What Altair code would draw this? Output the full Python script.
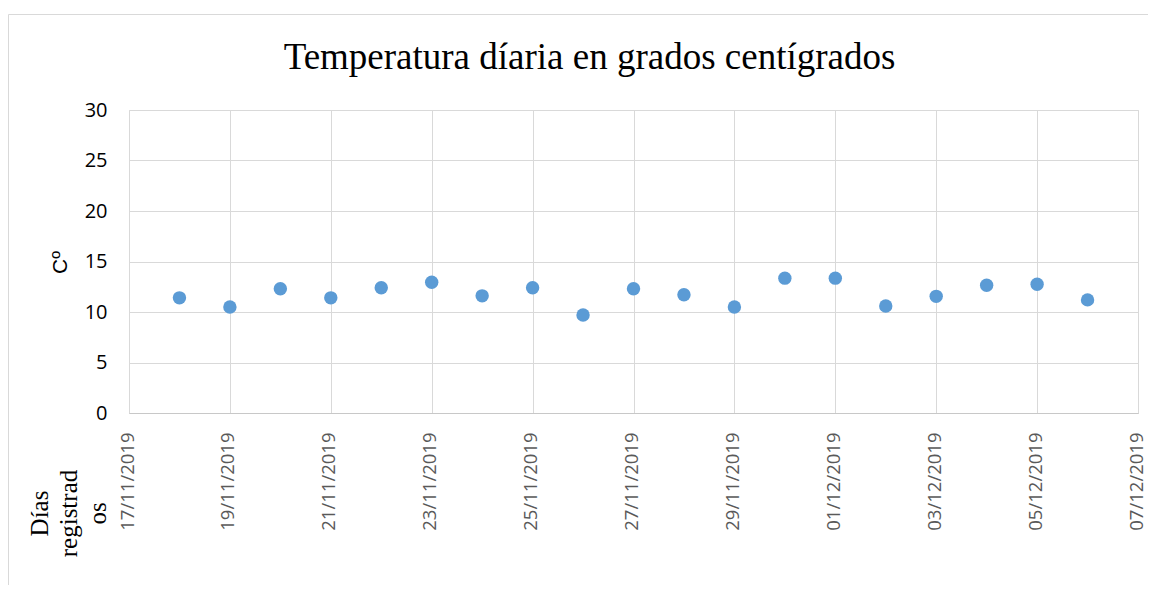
import altair as alt
import pandas as pd

dates = ["2019-11-18", "2019-11-19", "2019-11-20", "2019-11-21", "2019-11-22",
         "2019-11-23", "2019-11-24", "2019-11-25", "2019-11-26", "2019-11-27",
         "2019-11-28", "2019-11-29", "2019-11-30", "2019-12-01", "2019-12-02",
         "2019-12-03", "2019-12-04", "2019-12-05", "2019-12-06"]
temps = [11.4, 10.5, 12.3, 11.4, 12.4, 12.95, 11.6, 12.4, 9.7, 12.3,
         11.7, 10.5, 13.35, 13.35, 10.6, 11.55, 12.65, 12.75, 11.2]
tick_dates = ["2019-11-17", "2019-11-19", "2019-11-21", "2019-11-23", "2019-11-25",
              "2019-11-27", "2019-11-29", "2019-12-01", "2019-12-03", "2019-12-05",
              "2019-12-07"]
y_ticks = [0, 5, 10, 15, 20, 25, 30]

df = pd.DataFrame({"fecha": dates, "temp": temps})


def dt(s):
    y, m, d = map(int, s.split("-"))
    return alt.DateTime(year=y, month=m, date=d, utc=True)


W, H = 1009, 303
PAD_L, PAD_T, PAD_R, PAD_B = 121, 102, 10, 172

points = alt.Chart(df).mark_circle(size=180, color="#5B9BD5", opacity=1).encode(
    x=alt.X(
        "fecha:T",
        scale=alt.Scale(type="utc", domain=[dt(tick_dates[0]), dt(tick_dates[-1])], nice=False),
        axis=alt.Axis(
            values=[dt(s) for s in tick_dates],
            format="%d/%m/%Y",
            labelAngle=270,
            labelAlign="right",
            labelBaseline="middle",
            labelPadding=19,
            labelOffset=-2,
            labelFont="Open Sans",
            labelFontSize=18.5,
            labelColor="#595959",
            labelOverlap=False,
            ticks=False,
            domainColor="#c8c8c8",
            domainWidth=1.2,
            gridColor="#d9d9d9",
            title=["Días", "registrad", "os"],
            titleFont="Liberation Serif",
            titleFontSize=25,
            titleFontWeight="normal",
            titleColor="#000000",
            titleAngle=270,
            titleAlign="center",
            titleBaseline="top",
            titleLineHeight=29,
            titleX=-102,
            titleY=100,
        ),
    ),
    y=alt.Y(
        "temp:Q",
        scale=alt.Scale(domain=[0, 30], nice=False),
        axis=alt.Axis(
            values=y_ticks,
            labelFont="Open Sans",
            labelFontSize=20,
            labelColor="#000000",
            labelPadding=22,
            ticks=False,
            domain=False,
            gridColor="#d9d9d9",
            title="Cº",
            titleFont="Liberation Sans",
            titleFontSize=21,
            titleFontWeight="normal",
            titleColor="#000000",
            titleAngle=270,
            titleAlign="center",
            titleBaseline="middle",
            titleX=-69,
            titleY=152,
        ),
    ),
)

one_row = alt.Data(values=[{"k": 1}])
frame_top = alt.Chart(one_row).mark_rule(stroke="#d9d9d9", strokeWidth=1).encode(
    x=alt.value(-PAD_L + 0.5),
    x2=alt.value(W + PAD_R),
    y=alt.value(-95.5),
)
frame_left = alt.Chart(one_row).mark_rule(stroke="#d9d9d9", strokeWidth=1).encode(
    x=alt.value(-PAD_L + 0.5),
    y=alt.value(-95.5),
    y2=alt.value(H + PAD_B),
)

chart = alt.layer(frame_top, frame_left, points).properties(
    width=W,
    height=H,
    title=alt.TitleParams(
        "Temperatura díaria en grados centígrados",
        font="Liberation Serif",
        fontSize=37,
        fontWeight="normal",
        color="#000000",
        anchor="middle",
        frame="group",
        dx=-44,
        offset=-63,
    ),
    autosize=alt.AutoSizeParams(type="none"),
    padding={"left": PAD_L, "top": PAD_T, "right": PAD_R, "bottom": PAD_B},
).configure_view(strokeWidth=0).configure(background="white")

chart.save("out.html", embed_options={"renderer": "svg", "actions": False})
